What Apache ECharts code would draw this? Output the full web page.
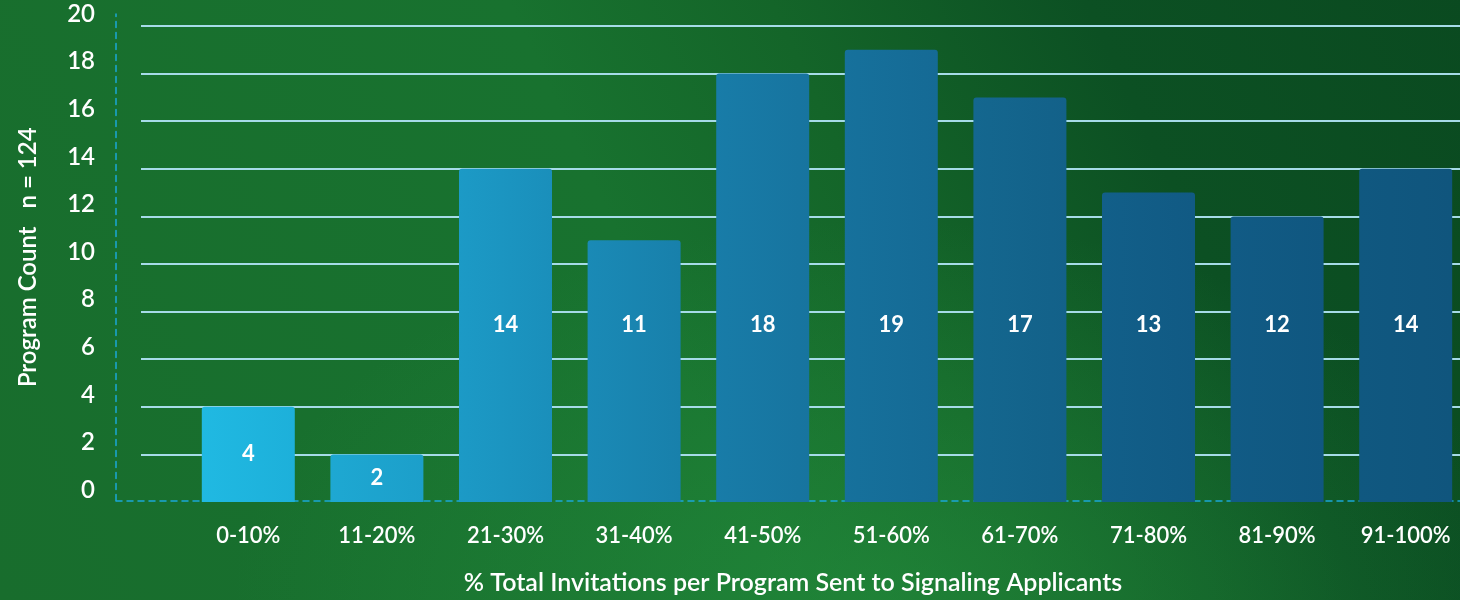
<!DOCTYPE html>
<html><head><meta charset="utf-8">
<script src="https://cdn.jsdelivr.net/npm/echarts@6/dist/echarts.min.js"></script>
<style>
html,body{margin:0;padding:0;overflow:hidden;width:1460px;height:600px;background:#176d2c}
#c{width:1470px;height:600px;
 background:
  radial-gradient(ellipse 650px 380px at 60% 100%, rgba(40,150,65,0.5), rgba(40,150,65,0) 100%),
  linear-gradient(65deg, #186d2d 0%, #18722f 45%, #146529 60%, #0c5023 78%, #0a4a20 100%);}
</style>
</head><body><div id="c"></div>
<script>
const categories = ['0-10%','11-20%','21-30%','31-40%','41-50%','51-60%','61-70%','71-80%','81-90%','91-100%'];
const values = [4, 2, 14, 11, 18, 19, 17, 13, 12, 14];
const yMin = 0, yMax = 20, yInterval = 2;
const yAxisTitle = 'Program Count   n = 124';
const xAxisTitle = '% Total Invitations per Program Sent to Signaling Applicants';
const barColors = [
  ['#20b9e2','#1db0da'], ['#1ea8d2','#1c9fca'], ['#1c9ac6','#1a8fbb'], ['#1a8ab6','#1880ab'],
  ['#187ca8','#17749f'], ['#16719c','#156a95'], ['#14678f','#136189'], ['#125f89','#115a84'],
  ['#115b85','#105780'], ['#105880','#10557d']
];
const font = 'Lato, "Open Sans", sans-serif';
const chart = echarts.init(document.getElementById('c'));
const barData = values.map((v, i) => ({
  value: v,
  itemStyle: { color: new echarts.graphic.LinearGradient(0, 0, 1, 0, [
    { offset: 0, color: barColors[i][0] }, { offset: 1, color: barColors[i][1] }]) },
  label: v >= 8 ? { position: 'insideBottom', distance: 166 } : { position: 'inside' }
}));
chart.setOption({
  backgroundColor: 'transparent',
  animation: false,
  grid: [
    { left: 141, right: 0, top: 26, bottom: 98 },
    { left: 184, right: 0, top: 26, bottom: 98 },
    { left: 116, right: 0, top: 14, bottom: 98 }
  ],
  xAxis: [
    { gridIndex: 0, type: 'value', show: false },
    { gridIndex: 1, type: 'category', data: categories,
      axisLine: { show: false }, axisTick: { show: false },
      axisLabel: { color: '#ffffff', fontFamily: font, fontSize: 22, fontWeight: 600, margin: 23 } },
    { gridIndex: 2, type: 'value', min: 0, max: 1,
      axisLine: { show: true, lineStyle: { color: '#1aa8d8', type: [6, 5], width: 1.5 } },
      axisTick: { show: false }, axisLabel: { show: false }, splitLine: { show: false },
      name: xAxisTitle, nameLocation: 'middle', nameGap: 82,
      nameTextStyle: { color: '#ffffff', fontFamily: font, fontSize: 25, fontWeight: 600, verticalAlign: 'middle' } }
  ],
  yAxis: [
    { gridIndex: 0, type: 'value', min: yMin, max: yMax, interval: yInterval,
      axisLine: { show: false }, axisTick: { show: false },
      axisLabel: { color: '#ffffff', fontFamily: font, fontSize: 24, fontWeight: 600, margin: 46, verticalAlign: 'bottom' },
      splitLine: { show: true, showMinLine: false, lineStyle: { color: '#a6dbe8', width: 2 } } },
    { gridIndex: 1, type: 'value', min: yMin, max: yMax, interval: yInterval, show: false, splitLine: { show: false } },
    { gridIndex: 2, type: 'value', min: 0, max: 1,
      axisLine: { show: true, lineStyle: { color: '#1aa8d8', type: [6, 5], width: 1.5 } },
      axisTick: { show: false }, axisLabel: { show: false }, splitLine: { show: false },
      name: yAxisTitle, nameLocation: 'middle', nameGap: 76,
      nameTextStyle: { color: '#ffffff', fontFamily: font, fontSize: 24, fontWeight: 600 } }
  ],
  series: [{
    type: 'bar', xAxisIndex: 1, yAxisIndex: 1, data: barData, barWidth: 93,
    itemStyle: { borderRadius: [3, 3, 0, 0] },
    label: { show: true, color: '#ffffff', fontFamily: font, fontSize: 22, fontWeight: 'bold' }
  }]
});
</script></body></html>
